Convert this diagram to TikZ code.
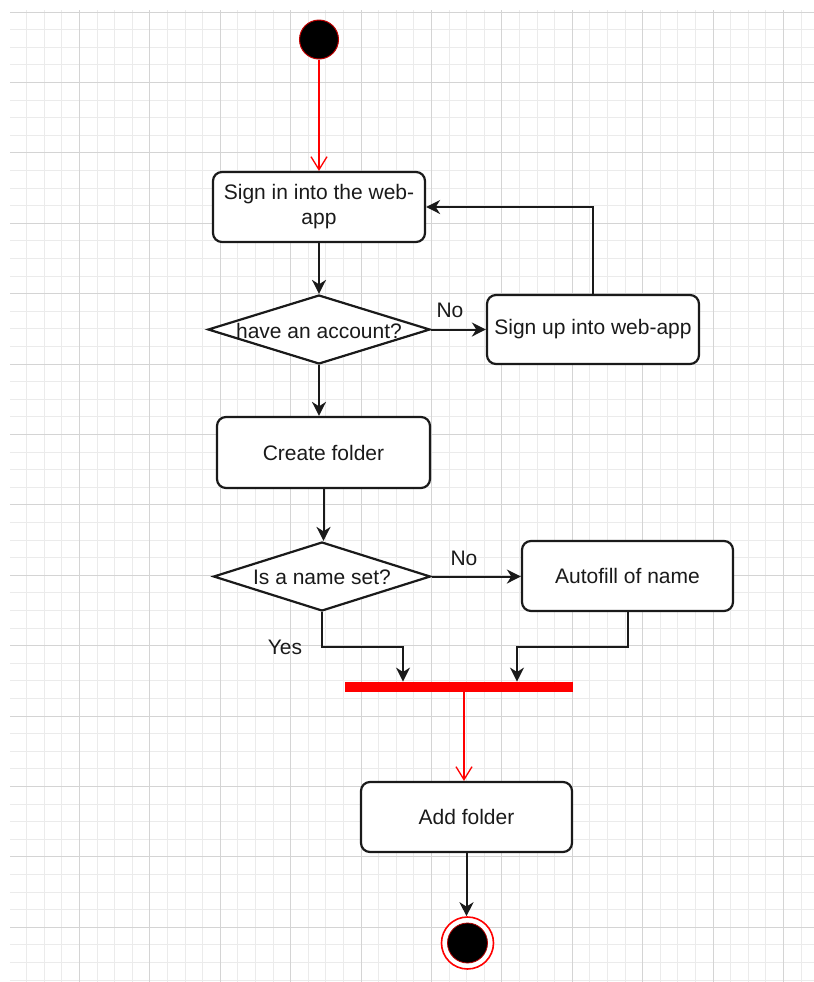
\documentclass[tikz,border=0pt]{standalone}
\usepackage{fontspec}
\setmainfont{Liberation Sans}
\usetikzlibrary{arrows.meta,shapes.geometric,calc}

\definecolor{gridminor}{HTML}{EBEBEB}
\definecolor{gridmajor}{HTML}{D4D4D4}
\definecolor{inkgray}{HTML}{1A1A1A}

\tikzset{
  activity/.style={draw=inkgray, line width=1.1pt, rounded corners=4.5pt, fill=white,
    inner sep=0pt, align=center, text=inkgray,
    font=\fontsize{10.5}{12.5}\selectfont},
  decision/.style={draw=inkgray, line width=1.1pt, diamond, fill=white, inner sep=0pt},
  caption/.style={text=inkgray, inner sep=0pt, font=\fontsize{10.5}{12.5}\selectfont},
  flow/.style={draw=inkgray, line width=1pt,
    -{Stealth[length=7pt,width=7pt,inset=2.2pt]}},
  redflow/.style={draw=red, line width=0.65pt,
    -{Straight Barb[length=6.5pt,width=8pt,line width=0.65pt]}},
  gridthin/.style={draw=gridminor, line width=0.5pt},
  gridthick/.style={draw=gridmajor, line width=0.5pt},
}

\begin{document}
\begin{tikzpicture}[x=0.5pt, y=-0.5pt]
  \useasboundingbox (0,0) rectangle (814,982);
  \fill[white] (0,0) rectangle (814,982);

  % background grid: minor lines every 17.6 px, major every 70.4 px,
  % snapped to whole pixels so every line renders alike
  \begin{scope}
    \clip (10,10) rectangle (814,982);
    \foreach \k in {0,...,46} {
      \pgfmathsetmacro{\gx}{round(8.6+17.6*\k)}
      \draw[gridthin] (\gx,10) -- (\gx,982);
    }
    \foreach \k in {0,...,55} {
      \pgfmathsetmacro{\gy}{round(11.6+17.6*\k)}
      \draw[gridthin] (10,\gy) -- (814,\gy);
    }
    \foreach \m in {0,...,11} {
      \pgfmathsetmacro{\gx}{round(8.6+70.4*\m)}
      \draw[gridthick] (\gx,10) -- (\gx,982);
    }
    \foreach \m in {0,...,13} {
      \pgfmathsetmacro{\gy}{round(11.6+70.4*\m)}
      \draw[gridthick] (10,\gy) -- (814,\gy);
    }
  \end{scope}

  % initial state
  \node[circle, fill=black, draw=red!75!black, line width=0.5pt,
        minimum size=19.5pt, inner sep=0pt] (start) at (319,39.5) {};

  % activities and decisions
  \node[activity, minimum width=106pt, minimum height=35pt] (signin) at (319,207)
    {Sign in into the web-\\app};
  \node[decision, minimum width=111pt, minimum height=34.5pt] (acct) at (319,329.5) {};
  \node[caption] (accttext) at (319,330.5) {have an account?};
  \node[activity, minimum width=106pt, minimum height=34.5pt] (signup) at (593,329.5)
    {Sign up into web-app};
  \node[activity, minimum width=106.5pt, minimum height=35.5pt] (createf) at (323.5,452.5)
    {Create folder};
  \node[decision, minimum width=108.5pt, minimum height=34.5pt] (nameset) at (322,576.5) {};
  \node[caption] (namesettext) at (322,577) {Is a name set?};
  \node[activity, minimum width=105.5pt, minimum height=35pt] (autofill) at (627.5,576)
    {Autofill of name};

  % join bar
  \node[rectangle, fill=red, inner sep=0pt, minimum width=114pt,
        minimum height=4.75pt] (bar) at (459,686.75) {};

  \node[activity, minimum width=105.5pt, minimum height=35pt] (addf) at (466.5,817)
    {Add folder};

  % final state
  \node[circle, draw=red, line width=0.8pt, fill=white, minimum size=26pt,
        inner sep=0pt] (stop) at (467.5,943) {};
  \node[circle, fill=black, draw=red!70!black, line width=0.4pt, minimum size=20pt,
        inner sep=0pt] (stopcore) at (stop.center) {};

  % guard labels
  \node[caption] (noA) at (450,310) {No};
  \node[caption] (noB) at (464,558) {No};
  \node[caption] (yes) at (285,647) {Yes};

  % helper coordinates for the merge
  \coordinate (ymid) at (0,647);
  \coordinate (jl) at (403,0);
  \coordinate (jr) at (517,0);
  \coordinate (jm) at (464,0);

  % connectors
  \draw[redflow] (start) -- (signin);
  \draw[flow] (signin) -- (acct);
  \draw[flow] (acct.east) -- (signup.west);
  \draw[flow] (signup.north) |- (signin.east);
  \draw[flow] (acct.south) -- (acct.south |- createf.north);
  \draw[flow] (createf.south) -- (createf.south |- nameset.north);
  \draw[flow] (nameset.east) -- (nameset.east -| autofill.west);
  \draw[flow] (nameset.south) -- (nameset.south |- ymid) -| (jl |- bar.north);
  \draw[flow] (autofill.south) -- (autofill.south |- ymid) -| (jr |- bar.north);
  \draw[redflow] (jm |- bar.south) -- (jm |- addf.north);
  \draw[flow] (addf.south) -- (addf.south |- stop.north);
\end{tikzpicture}
\end{document}
